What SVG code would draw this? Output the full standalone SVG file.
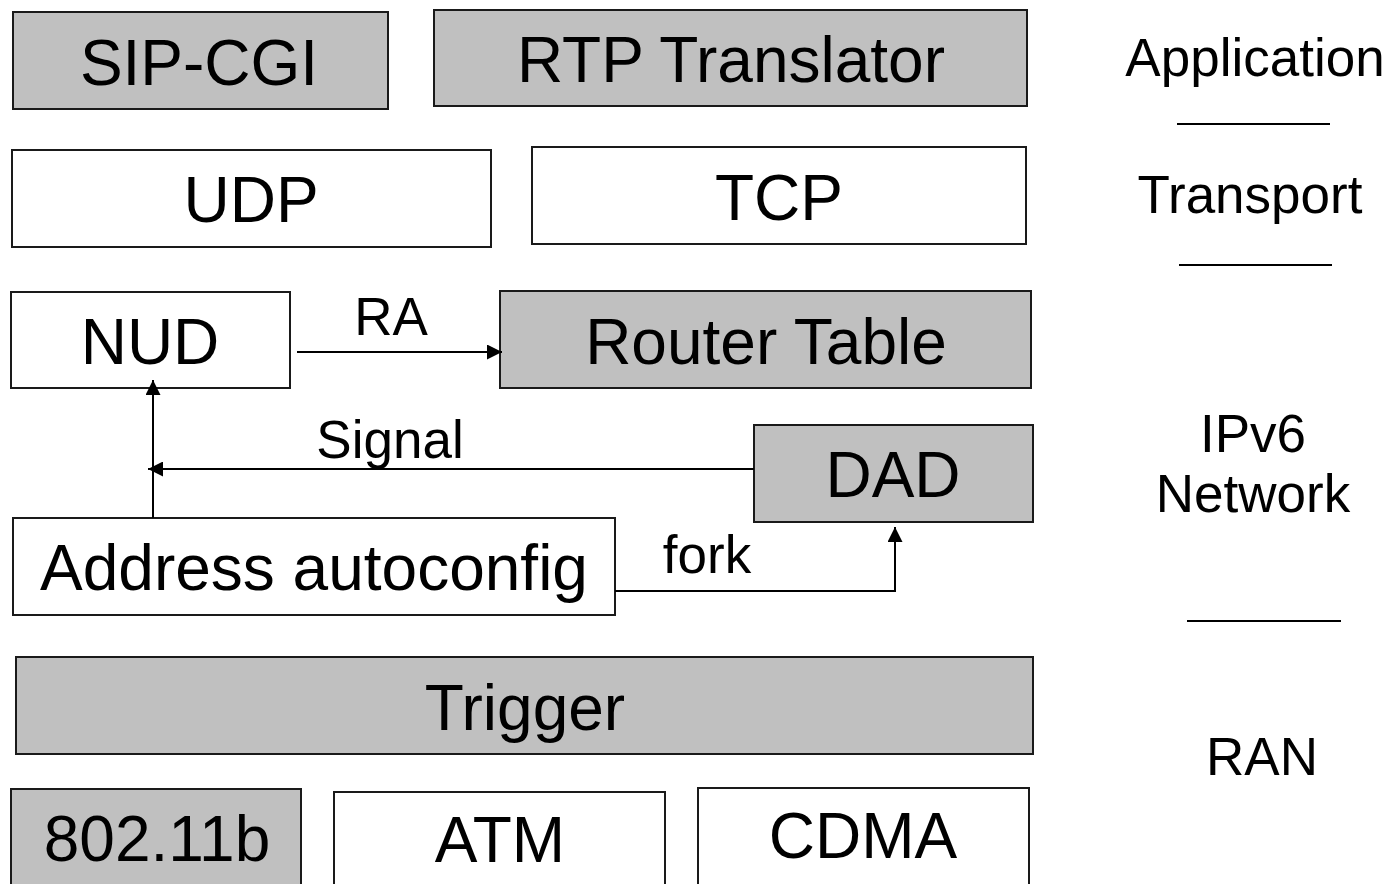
<svg xmlns="http://www.w3.org/2000/svg" width="1390" height="884" viewBox="0 0 1390 884">
  <style>
    .box { stroke: #1a1a1a; stroke-width: 2; }
    .grey { fill: #c0c0c0; }
    .white { fill: #ffffff; }
    .lbl { font-family: "Liberation Sans", Arial, sans-serif; font-size: 64px; fill: #000; text-anchor: middle; }
    .sm { font-family: "Liberation Sans", Arial, sans-serif; font-size: 53px; fill: #000; text-anchor: middle; }
    .wire { stroke: #000; stroke-width: 2; fill: none; }
    .rule { stroke: #000; stroke-width: 2; }
  </style>
  <defs>
    <marker id="arrow" viewBox="0 0 10 10" refX="10" refY="5" markerWidth="8.5" markerHeight="7.5" markerUnits="strokeWidth" orient="auto">
      <path d="M0,0 L10,5 L0,10 z" fill="#000"/>
    </marker>
  </defs>
  <rect width="1390" height="884" fill="#ffffff"/>

  <!-- Application layer -->
  <g id="sip-cgi">
    <rect class="box grey" x="13" y="12" width="375" height="97"/>
    <text class="lbl" x="199" y="85">SIP-CGI</text>
  </g>
  <g id="rtp-translator">
    <rect class="box grey" x="434" y="10" width="593" height="96"/>
    <text class="lbl" x="731" y="82">RTP Translator</text>
  </g>

  <!-- Transport layer -->
  <g id="udp">
    <rect class="box white" x="12" y="150" width="479" height="97"/>
    <text class="lbl" x="251" y="222">UDP</text>
  </g>
  <g id="tcp">
    <rect class="box white" x="532" y="147" width="494" height="97"/>
    <text class="lbl" x="779" y="220">TCP</text>
  </g>

  <!-- IPv6 network layer -->
  <g id="nud">
    <rect class="box white" x="11" y="292" width="279" height="96"/>
    <text class="lbl" x="150" y="364">NUD</text>
  </g>
  <g id="router-table">
    <rect class="box grey" x="500" y="291" width="531" height="97"/>
    <text class="lbl" x="766" y="364">Router Table</text>
  </g>
  <g id="dad">
    <rect class="box grey" x="754" y="425" width="279" height="97"/>
    <text class="lbl" x="893" y="497">DAD</text>
  </g>
  <g id="address-autoconfig">
    <rect class="box white" x="13" y="518" width="602" height="97"/>
    <text class="lbl" x="314" y="590">Address autoconfig</text>
  </g>

  <!-- RAN layer -->
  <g id="trigger">
    <rect class="box grey" x="16" y="657" width="1017" height="97"/>
    <text class="lbl" x="525" y="730">Trigger</text>
  </g>
  <g id="wlan">
    <rect class="box grey" x="11" y="789" width="290" height="110"/>
    <text class="lbl" x="157" y="861">802.11b</text>
  </g>
  <g id="atm">
    <rect class="box white" x="334" y="792" width="331" height="110"/>
    <text class="lbl" x="500" y="862">ATM</text>
  </g>
  <g id="cdma">
    <rect class="box white" x="698" y="788" width="331" height="110"/>
    <text class="lbl" x="863" y="858">CDMA</text>
  </g>

  <!-- Connectors -->
  <g id="connectors">
    <line class="wire" x1="297" y1="352" x2="502" y2="352" marker-end="url(#arrow)"/>
    <text class="sm" x="391" y="335">RA</text>
    <line class="wire" x1="754" y1="469" x2="148" y2="469" marker-end="url(#arrow)"/>
    <text class="sm" x="390" y="458">Signal</text>
    <line class="wire" x1="153" y1="518" x2="153" y2="380" marker-end="url(#arrow)"/>
    <polyline class="wire" points="615,591 895,591 895,527" marker-end="url(#arrow)"/>
    <text class="sm" x="707" y="573">fork</text>
  </g>

  <!-- Layer names -->
  <g id="layer-names">
    <text class="sm" x="1255" y="76">Application</text>
    <line class="rule" x1="1177" y1="124" x2="1330" y2="124"/>
    <text class="sm" x="1250" y="213">Transport</text>
    <line class="rule" x1="1179" y1="265" x2="1332" y2="265"/>
    <text class="sm" x="1253" y="452">IPv6</text>
    <text class="sm" x="1253" y="512">Network</text>
    <line class="rule" x1="1187" y1="621" x2="1341" y2="621"/>
    <text class="sm" x="1262" y="775">RAN</text>
  </g>
</svg>
